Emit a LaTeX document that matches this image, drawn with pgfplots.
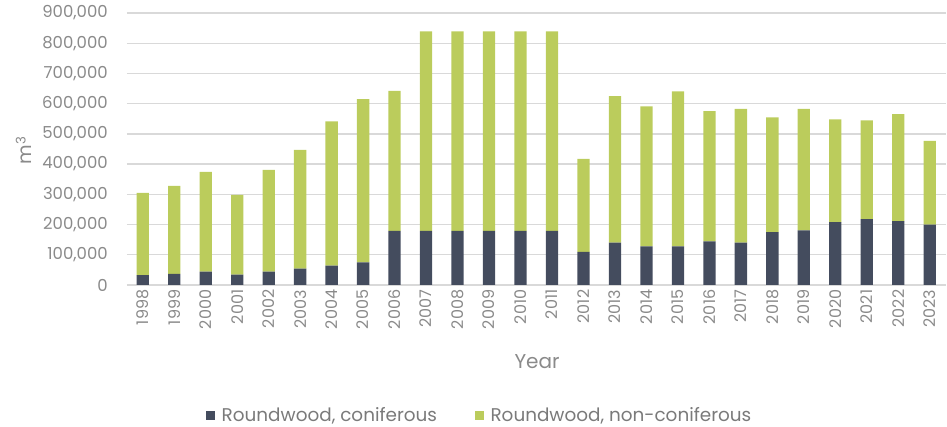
\documentclass[border=0pt]{standalone}
\usepackage{fontspec}
\setmainfont{Poppins}
\usepackage{pgfplots}
\usepackage{pgfplotstable}
\pgfplotsset{compat=1.18}
\definecolor{conif}{HTML}{444C5E}
\definecolor{nonconif}{HTML}{BBCC5C}
\definecolor{txt}{HTML}{8A8A8A}
\definecolor{legtxt}{HTML}{7A7A7A}
\definecolor{gridc}{HTML}{D9D9D9}
\pgfplotstableread{
year conif nonconif
1998 33000 272000
1999 37000 291000
2000 44000 330000
2001 34000 264000
2002 44000 337000
2003 54000 393000
2004 64000 477000
2005 75000 540000
2006 179000 463000
2007 179000 660000
2008 179000 660000
2009 179000 660000
2010 179000 660000
2011 179000 660000
2012 110000 307000
2013 140000 485000
2014 128000 463000
2015 128000 513000
2016 144000 431000
2017 140000 443000
2018 175000 380000
2019 181000 402000
2020 208000 340000
2021 218000 327000
2022 211000 354000
2023 200000 277000
}\datatable
\begin{document}
\begin{tikzpicture}
\useasboundingbox (-127pt,-142pt) rectangle (820pt,285pt);
\begin{axis}[
  at={(0,0)}, anchor=south west,
  width=818.5pt, height=272pt, scale only axis,
  xmin=1997.5, xmax=2023.5, ymin=0, ymax=900000,
  ybar stacked, bar width=12.3pt,
  scaled y ticks=false, scaled x ticks=false,
  xtick={1998,1999,2000,2001,2002,2003,2004,2005,2006,2007,2008,2009,2010,2011,2012,2013,2014,2015,2016,2017,2018,2019,2020,2021,2022,2023},
  xticklabels={1998,1999,2000,2001,2002,2003,2004,2005,2006,2007,2008,2009,2010,2011,2012,2013,2014,2015,2016,2017,2018,2019,2020,2021,2022,2023},
  ytick={0,100000,200000,300000,400000,500000,600000,700000,800000,900000},
  yticklabels={0,{100,000},{200,000},{300,000},{400,000},{500,000},{600,000},{700,000},{800,000},{900,000}},
  axis line style={draw=none},
  tick style={draw=none},
  ymajorgrids, grid style={gridc, line width=1.3pt},
  x tick label style={rotate=90, anchor=east, font=\fontsize{16}{18}\selectfont, text=txt, inner sep=4.5pt},
  y tick label style={font=\fontsize{16.5}{18}\selectfont, text=txt, inner sep=0pt, xshift=-19pt, anchor=east},
  xlabel={Year},
  xlabel style={at={(axis description cs:0.501,-0.28)}, anchor=center, font=\fontsize{20}{22}\selectfont, text=txt},
  ylabel={m\textsuperscript{3}},
  ylabel style={at={(axis description cs:-0.126,0.496)}, anchor=center, rotate=0, font=\fontsize{19}{21}\selectfont, text=txt},
  legend style={at={(axis description cs:0.431,-0.48)}, anchor=center, draw=none, fill=none,
    legend columns=2, font=\fontsize{18.4}{20}\selectfont, text=legtxt,
    /tikz/every odd column/.append style={column sep=5pt},
    /tikz/every even column/.append style={column sep=36pt}},
  legend image code/.code={\fill[#1] (0pt,-4.5pt) rectangle (8.5pt,4.5pt);},
]
\addplot[fill=conif, draw=none] table[x=year, y=conif] {\datatable};
\addplot[fill=nonconif, draw=none] table[x=year, y=nonconif] {\datatable};
\legend{Roundwood{,} coniferous, Roundwood{,} non-coniferous}
\end{axis}
\end{tikzpicture}
\end{document}
